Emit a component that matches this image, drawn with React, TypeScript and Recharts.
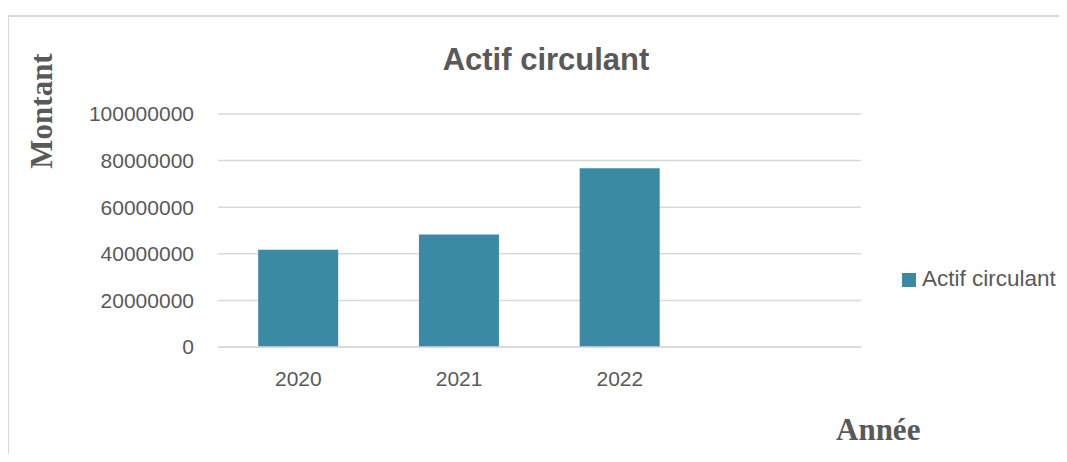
import React from "react";
import { BarChart, Bar, XAxis, YAxis, CartesianGrid, Legend } from "recharts";

const categories = ["2020", "2021", "2022", ""];
const actifCirculant = [41700000, 48300000, 76700000, null];
const yTicks = [0, 20000000, 40000000, 60000000, 80000000, 100000000];
const seriesName = "Actif circulant";
const chartTitle = "Actif circulant";
const yLabel = "Montant";
const xLabel = "Année";

const data = categories.map((c, i) => ({ year: c, value: actifCirculant[i] }));

const grey = "#595959";
const sans = "'Liberation Sans', Arial, sans-serif";
const serif = "'Liberation Serif', 'Times New Roman', serif";

export default function App() {
  return (
    <div style={{ position: "relative", width: 1067, height: 462, margin: -8, overflow: "hidden", background: "#fff" }}>
      <div
        style={{
          position: "absolute",
          left: 7,
          top: 15,
          width: 1080,
          height: 470,
          borderTop: "2px solid #d9d9d9",
          borderLeft: "2px solid #d9d9d9",
          boxSizing: "border-box",
        }}
      />
      <div style={{ position: "absolute", left: 0, top: 0 }}>
        <BarChart
          width={1067}
          height={462}
          data={data}
          margin={{ top: 114, right: 36, bottom: 75, left: 0 }}
          barCategoryGap="25%"
        >
          <CartesianGrid vertical={false} stroke="#d9d9d9" strokeWidth={1.5} />
          <XAxis
            dataKey="year"
            height={40}
            axisLine={{ stroke: "#d9d9d9", strokeWidth: 1.5 }}
            tickLine={false}
            tickSize={0}
            tickMargin={24}
            tick={{ fill: grey, fontSize: 21, fontFamily: sans }}
            interval={0}
          />
          <YAxis
            width={218}
            domain={[0, 100000000]}
            ticks={yTicks}
            axisLine={false}
            tickLine={false}
            tickSize={0}
            tickMargin={24}
            tick={{ fill: grey, fontSize: 21, fontFamily: sans }}
            interval={0}
          />
          <Legend
            layout="vertical"
            verticalAlign="middle"
            align="right"
            iconType="square"
            iconSize={14}
            wrapperStyle={{ left: 902, top: 266, width: 170, height: 30, fontFamily: sans, fontSize: 22.5 }}
            formatter={(v) => <span style={{ color: grey, marginLeft: 2 }}>{v}</span>}
          />
          <Bar dataKey="value" name={seriesName} fill="#3b8aa3" isAnimationActive={false} />
        </BarChart>
      </div>
      <div
        style={{
          position: "absolute",
          left: 346,
          width: 400,
          top: 40,
          textAlign: "center",
          fontFamily: sans,
          fontWeight: "bold",
          fontSize: 31,
          color: grey,
          lineHeight: "40px",
        }}
      >
        {chartTitle}
      </div>
      <div
        style={{
          position: "absolute",
          left: 42,
          top: 111,
          transform: "translate(-50%, -50%) rotate(-90deg)",
          fontFamily: serif,
          fontWeight: "bold",
          fontSize: 31,
          color: grey,
          whiteSpace: "nowrap",
          lineHeight: "36px",
        }}
      >
        {yLabel}
      </div>
      <div
        style={{
          position: "absolute",
          left: 836,
          top: 410,
          fontFamily: serif,
          fontWeight: "bold",
          fontSize: 31,
          color: grey,
          whiteSpace: "nowrap",
          lineHeight: "40px",
        }}
      >
        {xLabel}
      </div>
    </div>
  );
}
